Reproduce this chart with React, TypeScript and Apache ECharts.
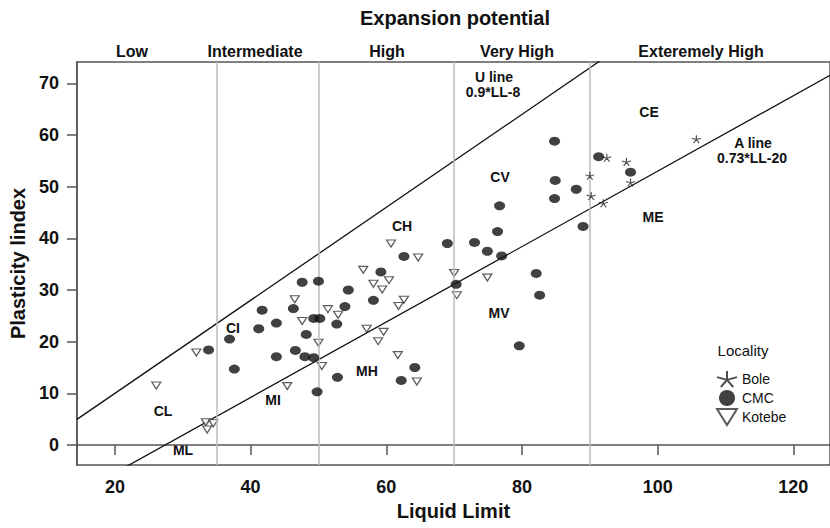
import React, { useEffect, useRef } from "react";
import * as echarts from "echarts";

// ---- data ----
const xTicks = [20, 40, 60, 80, 100, 120];
const yTicks = [0, 10, 20, 30, 40, 50, 60, 70];
const expansionBounds = [35, 50, 70, 90];
const expansionClasses = ["Low", "Intermediate", "High", "Very High", "Exteremely High"];

// [Liquid Limit, Plasticity Index]
const bolePoints = [
  [92.5, 55.6], [95.4, 54.8], [90.0, 52.1], [90.2, 48.2], [92.0, 46.8], [96.0, 50.8], [105.7, 59.2],
];
const cmcPoints = [
  [47.6, 31.5], [50.0, 31.7], [41.7, 26.1], [46.3, 26.4], [43.8, 23.6], [49.3, 24.5], [50.2, 24.5],
  [52.7, 23.4], [41.2, 22.5], [36.9, 20.5], [48.2, 21.4], [33.8, 18.4], [46.6, 18.3], [43.8, 17.1],
  [48.0, 17.1], [49.3, 16.9], [37.6, 14.7], [52.8, 13.1], [49.8, 10.3], [69.0, 39.0], [73.0, 39.2],
  [76.4, 41.3], [74.9, 37.5], [77.0, 36.6], [62.6, 36.5], [59.2, 33.5], [54.4, 30.0], [58.1, 28.0],
  [53.9, 26.8], [70.3, 31.1], [82.1, 33.2], [82.6, 29.0], [79.6, 19.2], [64.2, 15.0], [62.2, 12.5],
  [84.8, 58.8], [84.9, 51.2], [84.8, 47.7], [76.7, 46.3], [88.0, 49.5], [91.3, 55.8], [96.0, 52.8],
  [89.0, 42.3],
];
const kotebePoints = [
  [60.7, 39.0], [64.7, 36.3], [56.6, 33.9], [60.4, 31.9], [58.1, 31.2], [59.4, 30.1], [46.5, 28.2],
  [62.6, 28.1], [51.4, 26.3], [61.8, 26.9], [52.9, 25.2], [47.6, 24.0], [57.1, 22.5], [59.6, 21.9],
  [58.8, 20.1], [50.0, 19.8], [61.7, 17.4], [50.5, 15.3], [64.5, 12.3], [45.4, 11.4], [70.0, 33.3],
  [70.4, 29.0], [74.9, 32.4], [32.0, 17.9], [26.1, 11.5], [33.4, 4.4], [34.5, 4.2], [33.6, 3.0],
];

// Casagrande lines: PI = slope * LL + intercept
const uLineCoef = [0.9, -8];
const aLineCoef = [0.73, -20];

const X_MIN = 14.4;
const X_MAX = 125.4;
const Y_MIN = -3.87;
const Y_MAX = 74.13;

const STAR =
  "path://M10 10L10 0M10 10L19.51 6.91M10 10L15.88 18.09M10 10L4.12 18.09M10 10L0.49 6.91";
const TRI = "path://M0 0L10 0L5 8Z";

const FONT = "'Liberation Sans', Arial, Helvetica, sans-serif";

function lineData(coef: number[], x0: number, x1: number) {
  return [
    [x0, coef[0] * x0 + coef[1]],
    [x1, coef[0] * x1 + coef[1]],
  ];
}

function txt(text: string, x: number, y: number, size: number, bold = true) {
  return {
    type: "text",
    x,
    y,
    silent: true,
    style: {
      text,
      fill: "#111",
      font: `${bold ? "bold " : ""}${size}px ${FONT}`,
      align: "center",
      verticalAlign: "middle",
      textAlign: "center",
      textVerticalAlign: "middle",
    },
  };
}

export default function App() {
  const ref = useRef<HTMLDivElement>(null);
  useEffect(() => {
    if (!ref.current) return;
    const chart = echarts.init(ref.current, null, { renderer: "svg" });
    const classX = [132, 255, 387, 517, 701];
    const option: any = {
      animation: false,
      backgroundColor: "#fff",
      grid: {
        left: 75,
        right: 0,
        top: 62,
        bottom: 63,
        show: true,
        borderColor: "#555",
        borderWidth: 1.5,
        backgroundColor: "transparent",
      },
      legend: {
        orient: "vertical",
        left: 711,
        top: 365,
        itemWidth: 20,
        itemHeight: 16,
        itemGap: 2,
        symbolKeepAspect: false,
        textStyle: { fontFamily: FONT, fontSize: 14, color: "#111" },
        data: [
          { name: "Bole", icon: STAR },
          { name: "CMC", icon: "circle" },
          { name: "Kotebe", icon: TRI },
        ],
      },
      xAxis: {
        type: "value",
        min: X_MIN,
        max: X_MAX,
        name: "Liquid Limit",
        nameLocation: "middle",
        nameGap: 36,
        nameTextStyle: { fontFamily: FONT, fontSize: 20, fontWeight: "bold", color: "#111" },
        axisLine: { show: true, lineStyle: { color: "#555", width: 1.5 } },
        axisTick: { show: true, length: 10, lineStyle: { color: "#555", width: 1.5 }, customValues: xTicks },
        axisLabel: {
          margin: 13,
          fontFamily: FONT,
          fontSize: 18,
          fontWeight: "bold",
          color: "#111",
          customValues: xTicks,
        },
        splitLine: { show: false },
      },
      yAxis: {
        type: "value",
        min: Y_MIN,
        max: Y_MAX,
        name: "Plasticity lindex",
        nameLocation: "middle",
        nameGap: 43,
        nameTextStyle: { fontFamily: FONT, fontSize: 20, fontWeight: "bold", color: "#111" },
        axisLine: { show: true, lineStyle: { color: "#555", width: 1.5 } },
        axisTick: { show: true, length: 10, lineStyle: { color: "#555", width: 1.5 }, customValues: yTicks },
        axisLabel: {
          margin: 18,
          fontFamily: FONT,
          fontSize: 18,
          fontWeight: "bold",
          color: "#111",
          customValues: yTicks,
        },
        splitLine: { show: false },
      },
      graphic: [
        txt("Expansion potential", 455, 18, 20),
        ...expansionClasses.map((c, i) => txt(c, classX[i], 51, 16)),
        txt("U line", 494, 77, 14),
        txt("0.9*LL-8", 493, 92, 14),
        txt("A line", 753, 143, 14),
        txt("0.73*LL-20", 752, 158, 14),
        txt("CL", 163, 411, 14),
        txt("ML", 183, 450, 14),
        txt("CI", 233, 328, 14),
        txt("MI", 273, 400, 14),
        txt("CH", 402, 226, 14),
        txt("MH", 367, 371, 14),
        txt("CV", 500, 177, 14),
        txt("MV", 499, 313, 14),
        txt("CE", 649, 112, 14),
        txt("ME", 653, 217, 14),
        txt("Locality", 743, 350, 15, false),
      ],
      series: [
        {
          name: "U line",
          type: "line",
          data: lineData(uLineCoef, X_MIN, X_MAX),
          symbol: "none",
          clip: true,
          silent: true,
          lineStyle: { color: "#111", width: 1.3 },
          z: 3,
          markLine: {
            silent: true,
            symbol: "none",
            label: { show: false },
            lineStyle: { color: "#bdbdbd", width: 1.5, type: "solid" },
            data: expansionBounds.map((v) => ({ xAxis: v })),
          },
        },
        {
          name: "A line",
          type: "line",
          data: lineData(aLineCoef, X_MIN, X_MAX),
          symbol: "none",
          clip: true,
          silent: true,
          lineStyle: { color: "#111", width: 1.3 },
          z: 3,
        },
        {
          name: "Kotebe",
          type: "scatter",
          data: kotebePoints,
          symbol: TRI,
          symbolSize: [9, 7],
          itemStyle: { color: "#fff", borderColor: "#333", borderWidth: 1.2 },
          z: 4,
        },
        {
          name: "CMC",
          type: "scatter",
          data: cmcPoints,
          symbol: "circle",
          symbolSize: [11, 9],
          itemStyle: { color: "#111" },
          z: 5,
        },
        {
          name: "Bole",
          type: "scatter",
          data: bolePoints,
          symbol: STAR,
          symbolSize: [9, 8],
          itemStyle: { color: "transparent", borderColor: "#222", borderWidth: 1.1 },
          z: 6,
        },
      ],
    };
    chart.setOption(option);
    return () => chart.dispose();
  }, []);
  return (
    <div
      ref={ref}
      style={{ position: "fixed", left: 0, top: 0, width: 830, height: 528, background: "#fff" }}
    />
  );
}
